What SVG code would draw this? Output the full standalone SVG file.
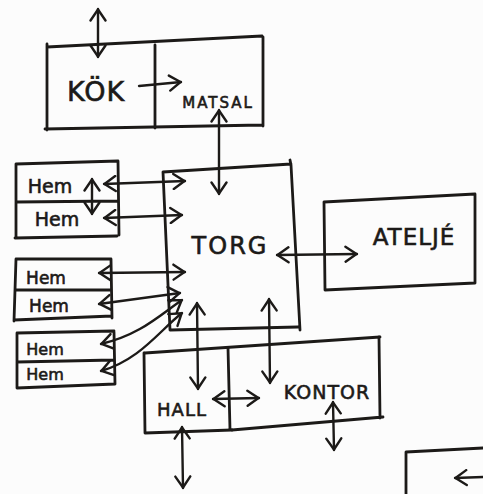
<svg xmlns="http://www.w3.org/2000/svg" width="483" height="494" viewBox="0 0 483 494">
<style>
.ln{fill:none;stroke:#1c1a18;stroke-width:2.8;stroke-linecap:round;stroke-linejoin:round}
.c{fill:none;stroke:#1c1a18;stroke-width:2.4;stroke-linecap:round}
.t{font-family:"DejaVu Sans",sans-serif;fill:#1c1a18;stroke:#1c1a18;stroke-width:0.6;text-anchor:middle}
</style>
<defs>
<marker id="h" viewBox="0 0 14 18" refX="13" refY="9" markerWidth="14" markerHeight="18" markerUnits="userSpaceOnUse" orient="auto-start-reverse">
<path d="M1.5,1.5 L12.5,9 L1.5,16.5" fill="none" stroke="#1c1a18" stroke-width="2.4" stroke-linecap="round" stroke-linejoin="round"/>
</marker>
</defs>
<rect width="483" height="494" fill="#fcfcfc"/>
<g id="kok">
<path class="ln" d="M47,47 L262,36 M47,44 L47,130 M45,129 L262,125 M263,37 L263,126"/>
<text class="t" x="96" y="101" font-size="27" letter-spacing="1">KÖK</text>
</g>
<g id="matsal">
<path class="ln" d="M155,45 L155,128"/>
<text class="t" x="218" y="108" font-size="15" letter-spacing="2">MATSAL</text>
</g>
<g id="torg">
<path class="ln" d="M163,172 L291,164 M290,160 L291,165 M163,172 L170,330 M170,330 L298,327 M291,165 L300,330"/>
<text class="t" x="230" y="254" font-size="24" letter-spacing="2">TORG</text>
</g>
<g id="hem1">
<path class="ln" d="M16,164 L118,161 M16,164 L16,238 M118,161 L119,235 M16,202 L118,201 M15,238 L117,236"/>
<text class="t" x="50" y="193" font-size="19">Hem</text>
<text class="t" x="57" y="226" font-size="19">Hem</text>
</g>
<g id="hem2">
<path class="ln" d="M16,259 L111,259 M16,259 L14,321 M111,259 L112,318 M15,290 L111,290 M14,320 L112,316"/>
<text class="t" x="46" y="284" font-size="17">Hem</text>
<text class="t" x="49" y="312" font-size="17">Hem</text>
</g>
<g id="hem3">
<path class="ln" d="M17,333 L114,331 M17,333 L17,388 M114,332 L115,384 M17,362 L114,360 M17,388 L115,384"/>
<text class="t" x="45" y="355" font-size="16">Hem</text>
<text class="t" x="45" y="380" font-size="16">Hem</text>
</g>
<g id="atelje">
<path class="ln" d="M324,202 L475,194 M324,202 L325,290 M475,194 L475,283 M325,290 L475,283"/>
<text class="t" x="414" y="245" font-size="23" letter-spacing="1">ATELJÉ</text>
</g>
<g id="hall">
<path class="ln" d="M144,353 L145,433 M145,433 L232,430 M228,348 L230,430"/>
<text class="t" x="182" y="416" font-size="18" letter-spacing="1">HALL</text>
</g>
<g id="kontor">
<path class="ln" d="M145,353 L380,337 M379,337 L380,418 M232,430 L383,417"/>
<text class="t" x="327" y="399" font-size="19" letter-spacing="1">KONTOR</text>
</g>
<g id="box-br">
<path class="ln" d="M406,494 L406,452 L483,448"/>
</g>
<g id="connectors">
<path class="c" marker-start="url(#h)" marker-end="url(#h)" d="M98,9 L98,57"/>
<path class="c" marker-end="url(#h)" d="M139,86 L181,82"/>
<path class="c" marker-start="url(#h)" marker-end="url(#h)" d="M219,110 L219,194"/>
<path class="c" marker-start="url(#h)" marker-end="url(#h)" d="M104,184 L185,181"/>
<path class="c" marker-start="url(#h)" marker-end="url(#h)" d="M92,179 L92,214"/>
<path class="c" marker-start="url(#h)" marker-end="url(#h)" d="M104,218 L182,215"/>
<path class="c" marker-start="url(#h)" marker-end="url(#h)" d="M99,273 L185,272"/>
<path class="c" marker-start="url(#h)" marker-end="url(#h)" d="M99,304 L180,293"/>
<path class="c" marker-start="url(#h)" marker-end="url(#h)" d="M101,344 C140,335 160,315 182,300"/>
<path class="c" marker-start="url(#h)" marker-end="url(#h)" d="M101,371 C140,360 160,330 182,313"/>
<path class="c" marker-start="url(#h)" marker-end="url(#h)" d="M277,255 L357,254"/>
<path class="c" marker-start="url(#h)" marker-end="url(#h)" d="M197,303 L198,389"/>
<path class="c" marker-start="url(#h)" marker-end="url(#h)" d="M269,299 L270,383"/>
<path class="c" marker-start="url(#h)" marker-end="url(#h)" d="M213,399 L259,398"/>
<path class="c" marker-start="url(#h)" marker-end="url(#h)" d="M333,402 L334,450"/>
<path class="c" marker-start="url(#h)" marker-end="url(#h)" d="M182,427 L183,488"/>
<path class="c" marker-start="url(#h)" d="M455,478 L483,477"/>
</g>
</svg>
